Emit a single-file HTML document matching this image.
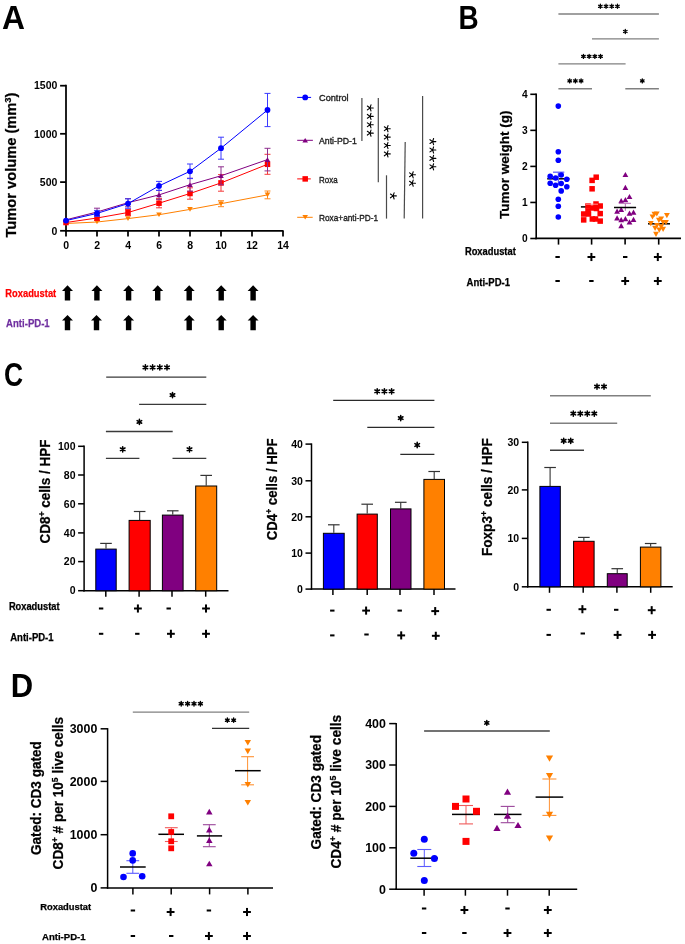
<!DOCTYPE html>
<html><head><meta charset="utf-8"><style>
html,body{margin:0;padding:0;background:#fff;width:685px;height:944px;overflow:hidden}
svg{display:block;font-family:"Liberation Sans", sans-serif;will-change:transform}
</style></head><body>
<svg width="685" height="944" viewBox="0 0 685 944">
<rect width="685" height="944" fill="#fff"/>
<text transform="translate(2.9,28.9) scale(0.95,1)" x="-1.00" y="0" font-size="33.5" font-weight="bold">A</text>
<line x1="66" y1="84.8" x2="66" y2="231.7" stroke="#000" stroke-width="1.75" />
<line x1="65.1" y1="230.8" x2="283.5" y2="230.8" stroke="#000" stroke-width="1.75" />
<line x1="60.1" y1="85.7" x2="66" y2="85.7" stroke="#000" stroke-width="1.75" />
<text x="57.4" y="89.4" font-size="10.5" font-weight="bold" text-anchor="end" fill="#000">1500</text>
<line x1="60.1" y1="133.8" x2="66" y2="133.8" stroke="#000" stroke-width="1.75" />
<text x="57.4" y="137.5" font-size="10.5" font-weight="bold" text-anchor="end" fill="#000">1000</text>
<line x1="60.1" y1="182.1" x2="66" y2="182.1" stroke="#000" stroke-width="1.75" />
<text x="57.4" y="185.79999999999998" font-size="10.5" font-weight="bold" text-anchor="end" fill="#000">500</text>
<line x1="60.1" y1="230.8" x2="66" y2="230.8" stroke="#000" stroke-width="1.75" />
<text x="57.4" y="234.5" font-size="10.5" font-weight="bold" text-anchor="end" fill="#000">0</text>
<line x1="66.0" y1="230.8" x2="66.0" y2="236.6" stroke="#000" stroke-width="1.75" />
<text x="66.1" y="249" font-size="10.5" font-weight="bold" text-anchor="middle" fill="#000">0</text>
<line x1="97.0" y1="230.8" x2="97.0" y2="236.6" stroke="#000" stroke-width="1.75" />
<text x="97.1" y="249" font-size="10.5" font-weight="bold" text-anchor="middle" fill="#000">2</text>
<line x1="128.0" y1="230.8" x2="128.0" y2="236.6" stroke="#000" stroke-width="1.75" />
<text x="128.1" y="249" font-size="10.5" font-weight="bold" text-anchor="middle" fill="#000">4</text>
<line x1="159.0" y1="230.8" x2="159.0" y2="236.6" stroke="#000" stroke-width="1.75" />
<text x="159.1" y="249" font-size="10.5" font-weight="bold" text-anchor="middle" fill="#000">6</text>
<line x1="190.0" y1="230.8" x2="190.0" y2="236.6" stroke="#000" stroke-width="1.75" />
<text x="190.1" y="249" font-size="10.5" font-weight="bold" text-anchor="middle" fill="#000">8</text>
<line x1="221.0" y1="230.8" x2="221.0" y2="236.6" stroke="#000" stroke-width="1.75" />
<text x="221.1" y="249" font-size="10.5" font-weight="bold" text-anchor="middle" fill="#000">10</text>
<line x1="252.0" y1="230.8" x2="252.0" y2="236.6" stroke="#000" stroke-width="1.75" />
<text x="252.1" y="249" font-size="10.5" font-weight="bold" text-anchor="middle" fill="#000">12</text>
<line x1="283.0" y1="230.8" x2="283.0" y2="236.6" stroke="#000" stroke-width="1.75" />
<text x="283.1" y="249" font-size="10.5" font-weight="bold" text-anchor="middle" fill="#000">14</text>
<text transform="translate(16.4,237.5) rotate(-90)" x="0" y="0" font-size="14" font-weight="bold" fill="#000" stroke="#000" stroke-width="0.25" textLength="145" lengthAdjust="spacingAndGlyphs">Tumor volume (mm<tspan font-size="9" dy="-5">3</tspan><tspan dy="5">)</tspan></text>
<polyline points="66.00,223.50 97.00,222.00 128.00,218.60 159.00,214.70 190.00,209.40 221.00,203.70 267.50,194.90" fill="none" stroke="#FF8000" stroke-width="1"/>
<line x1="221.0" y1="200.7" x2="221.0" y2="206.7" stroke="#FF8A1F" stroke-width="1" />
<line x1="218.0" y1="200.7" x2="224.0" y2="200.7" stroke="#FF8A1F" stroke-width="1" />
<line x1="218.0" y1="206.7" x2="224.0" y2="206.7" stroke="#FF8A1F" stroke-width="1" />
<line x1="267.5" y1="191.0" x2="267.5" y2="198.8" stroke="#FF8A1F" stroke-width="1" />
<line x1="264.5" y1="191.0" x2="270.5" y2="191.0" stroke="#FF8A1F" stroke-width="1" />
<line x1="264.5" y1="198.8" x2="270.5" y2="198.8" stroke="#FF8A1F" stroke-width="1" />
<path d="M66.00 225.80L68.80 221.20L63.20 221.20Z" fill="#FF8000"/>
<path d="M97.00 224.30L99.80 219.70L94.20 219.70Z" fill="#FF8000"/>
<path d="M128.00 220.90L130.80 216.30L125.20 216.30Z" fill="#FF8000"/>
<path d="M159.00 217.00L161.80 212.40L156.20 212.40Z" fill="#FF8000"/>
<path d="M190.00 211.70L192.80 207.10L187.20 207.10Z" fill="#FF8000"/>
<path d="M221.00 206.00L223.80 201.40L218.20 201.40Z" fill="#FF8000"/>
<path d="M267.50 197.20L270.30 192.60L264.70 192.60Z" fill="#FF8000"/>
<polyline points="66.00,222.50 97.00,218.00 128.00,212.50 159.00,203.20 190.00,193.50 221.00,182.90 267.50,164.30" fill="none" stroke="#FF0000" stroke-width="1"/>
<line x1="97.0" y1="215.5" x2="97.0" y2="220.5" stroke="#F43A3A" stroke-width="1" />
<line x1="94.0" y1="215.5" x2="100.0" y2="215.5" stroke="#F43A3A" stroke-width="1" />
<line x1="94.0" y1="220.5" x2="100.0" y2="220.5" stroke="#F43A3A" stroke-width="1" />
<line x1="128.0" y1="209.5" x2="128.0" y2="215.5" stroke="#F43A3A" stroke-width="1" />
<line x1="125.0" y1="209.5" x2="131.0" y2="209.5" stroke="#F43A3A" stroke-width="1" />
<line x1="125.0" y1="215.5" x2="131.0" y2="215.5" stroke="#F43A3A" stroke-width="1" />
<line x1="159.0" y1="198.6" x2="159.0" y2="207.79999999999998" stroke="#F43A3A" stroke-width="1" />
<line x1="156.0" y1="198.6" x2="162.0" y2="198.6" stroke="#F43A3A" stroke-width="1" />
<line x1="156.0" y1="207.79999999999998" x2="162.0" y2="207.79999999999998" stroke="#F43A3A" stroke-width="1" />
<line x1="190.0" y1="187.8" x2="190.0" y2="199.2" stroke="#F43A3A" stroke-width="1" />
<line x1="187.0" y1="187.8" x2="193.0" y2="187.8" stroke="#F43A3A" stroke-width="1" />
<line x1="187.0" y1="199.2" x2="193.0" y2="199.2" stroke="#F43A3A" stroke-width="1" />
<line x1="221.0" y1="174.6" x2="221.0" y2="191.20000000000002" stroke="#F43A3A" stroke-width="1" />
<line x1="218.0" y1="174.6" x2="224.0" y2="174.6" stroke="#F43A3A" stroke-width="1" />
<line x1="218.0" y1="191.20000000000002" x2="224.0" y2="191.20000000000002" stroke="#F43A3A" stroke-width="1" />
<line x1="267.5" y1="154.3" x2="267.5" y2="174.3" stroke="#F43A3A" stroke-width="1" />
<line x1="264.5" y1="154.3" x2="270.5" y2="154.3" stroke="#F43A3A" stroke-width="1" />
<line x1="264.5" y1="174.3" x2="270.5" y2="174.3" stroke="#F43A3A" stroke-width="1" />
<rect x="63.25" y="219.75" width="5.5" height="5.5" fill="#FF0000"/>
<rect x="94.25" y="215.25" width="5.5" height="5.5" fill="#FF0000"/>
<rect x="125.25" y="209.75" width="5.5" height="5.5" fill="#FF0000"/>
<rect x="156.25" y="200.45" width="5.5" height="5.5" fill="#FF0000"/>
<rect x="187.25" y="190.75" width="5.5" height="5.5" fill="#FF0000"/>
<rect x="218.25" y="180.15" width="5.5" height="5.5" fill="#FF0000"/>
<rect x="264.75" y="161.55" width="5.5" height="5.5" fill="#FF0000"/>
<polyline points="66.00,219.80 97.00,212.00 128.00,202.70 159.00,194.90 190.00,184.70 221.00,175.80 267.50,159.60" fill="none" stroke="#800080" stroke-width="1"/>
<line x1="97.0" y1="208.2" x2="97.0" y2="215.8" stroke="#8E2E8E" stroke-width="1" />
<line x1="94.0" y1="208.2" x2="100.0" y2="208.2" stroke="#8E2E8E" stroke-width="1" />
<line x1="94.0" y1="215.8" x2="100.0" y2="215.8" stroke="#8E2E8E" stroke-width="1" />
<line x1="128.0" y1="198.6" x2="128.0" y2="206.79999999999998" stroke="#8E2E8E" stroke-width="1" />
<line x1="125.0" y1="198.6" x2="131.0" y2="198.6" stroke="#8E2E8E" stroke-width="1" />
<line x1="125.0" y1="206.79999999999998" x2="131.0" y2="206.79999999999998" stroke="#8E2E8E" stroke-width="1" />
<line x1="159.0" y1="190.4" x2="159.0" y2="199.4" stroke="#8E2E8E" stroke-width="1" />
<line x1="156.0" y1="190.4" x2="162.0" y2="190.4" stroke="#8E2E8E" stroke-width="1" />
<line x1="156.0" y1="199.4" x2="162.0" y2="199.4" stroke="#8E2E8E" stroke-width="1" />
<line x1="190.0" y1="178.2" x2="190.0" y2="191.2" stroke="#8E2E8E" stroke-width="1" />
<line x1="187.0" y1="178.2" x2="193.0" y2="178.2" stroke="#8E2E8E" stroke-width="1" />
<line x1="187.0" y1="191.2" x2="193.0" y2="191.2" stroke="#8E2E8E" stroke-width="1" />
<line x1="221.0" y1="166.8" x2="221.0" y2="184.8" stroke="#8E2E8E" stroke-width="1" />
<line x1="218.0" y1="166.8" x2="224.0" y2="166.8" stroke="#8E2E8E" stroke-width="1" />
<line x1="218.0" y1="184.8" x2="224.0" y2="184.8" stroke="#8E2E8E" stroke-width="1" />
<line x1="267.5" y1="148.29999999999998" x2="267.5" y2="170.9" stroke="#8E2E8E" stroke-width="1" />
<line x1="264.5" y1="148.29999999999998" x2="270.5" y2="148.29999999999998" stroke="#8E2E8E" stroke-width="1" />
<line x1="264.5" y1="170.9" x2="270.5" y2="170.9" stroke="#8E2E8E" stroke-width="1" />
<path d="M66.00 217.50L68.80 222.10L63.20 222.10Z" fill="#800080"/>
<path d="M97.00 209.70L99.80 214.30L94.20 214.30Z" fill="#800080"/>
<path d="M128.00 200.40L130.80 205.00L125.20 205.00Z" fill="#800080"/>
<path d="M159.00 192.60L161.80 197.20L156.20 197.20Z" fill="#800080"/>
<path d="M190.00 182.40L192.80 187.00L187.20 187.00Z" fill="#800080"/>
<path d="M221.00 173.50L223.80 178.10L218.20 178.10Z" fill="#800080"/>
<path d="M267.50 157.30L270.30 161.90L264.70 161.90Z" fill="#800080"/>
<polyline points="66.00,220.60 97.00,213.40 128.00,203.60 159.00,185.90 190.00,171.30 221.00,148.20 267.50,110.00" fill="none" stroke="#0000FF" stroke-width="1"/>
<line x1="97.0" y1="210.4" x2="97.0" y2="216.4" stroke="#3A3AFF" stroke-width="1" />
<line x1="94.0" y1="210.4" x2="100.0" y2="210.4" stroke="#3A3AFF" stroke-width="1" />
<line x1="94.0" y1="216.4" x2="100.0" y2="216.4" stroke="#3A3AFF" stroke-width="1" />
<line x1="128.0" y1="198.9" x2="128.0" y2="208.29999999999998" stroke="#3A3AFF" stroke-width="1" />
<line x1="125.0" y1="198.9" x2="131.0" y2="198.9" stroke="#3A3AFF" stroke-width="1" />
<line x1="125.0" y1="208.29999999999998" x2="131.0" y2="208.29999999999998" stroke="#3A3AFF" stroke-width="1" />
<line x1="159.0" y1="181.4" x2="159.0" y2="190.4" stroke="#3A3AFF" stroke-width="1" />
<line x1="156.0" y1="181.4" x2="162.0" y2="181.4" stroke="#3A3AFF" stroke-width="1" />
<line x1="156.0" y1="190.4" x2="162.0" y2="190.4" stroke="#3A3AFF" stroke-width="1" />
<line x1="190.0" y1="164.0" x2="190.0" y2="178.60000000000002" stroke="#3A3AFF" stroke-width="1" />
<line x1="187.0" y1="164.0" x2="193.0" y2="164.0" stroke="#3A3AFF" stroke-width="1" />
<line x1="187.0" y1="178.60000000000002" x2="193.0" y2="178.60000000000002" stroke="#3A3AFF" stroke-width="1" />
<line x1="221.0" y1="137.2" x2="221.0" y2="159.2" stroke="#3A3AFF" stroke-width="1" />
<line x1="218.0" y1="137.2" x2="224.0" y2="137.2" stroke="#3A3AFF" stroke-width="1" />
<line x1="218.0" y1="159.2" x2="224.0" y2="159.2" stroke="#3A3AFF" stroke-width="1" />
<line x1="267.5" y1="93.4" x2="267.5" y2="126.6" stroke="#3A3AFF" stroke-width="1" />
<line x1="264.5" y1="93.4" x2="270.5" y2="93.4" stroke="#3A3AFF" stroke-width="1" />
<line x1="264.5" y1="126.6" x2="270.5" y2="126.6" stroke="#3A3AFF" stroke-width="1" />
<circle cx="66.00" cy="220.60" r="2.9" fill="#0000FF"/>
<circle cx="97.00" cy="213.40" r="2.9" fill="#0000FF"/>
<circle cx="128.00" cy="203.60" r="2.9" fill="#0000FF"/>
<circle cx="159.00" cy="185.90" r="2.9" fill="#0000FF"/>
<circle cx="190.00" cy="171.30" r="2.9" fill="#0000FF"/>
<circle cx="221.00" cy="148.20" r="2.9" fill="#0000FF"/>
<circle cx="267.50" cy="110.00" r="2.9" fill="#0000FF"/>
<line x1="297.2" y1="97.4" x2="311.1" y2="97.4" stroke="#0000FF" stroke-width="1" />
<circle cx="305.20" cy="97.40" r="2.9" fill="#0000FF"/>
<text x="319" y="101.30000000000001" font-size="9.7" font-weight="normal" text-anchor="start" fill="#1a1a1a" stroke="#1a1a1a" stroke-width="0.35" textLength="29.6" lengthAdjust="spacingAndGlyphs" >Control</text>
<line x1="297.2" y1="140.3" x2="312.9" y2="140.3" stroke="#800080" stroke-width="1" />
<path d="M305.20 138.00L308.00 142.60L302.40 142.60Z" fill="#800080"/>
<text x="319" y="144.20000000000002" font-size="9.7" font-weight="normal" text-anchor="start" fill="#1a1a1a" stroke="#1a1a1a" stroke-width="0.35" textLength="37.8" lengthAdjust="spacingAndGlyphs" >Anti-PD-1</text>
<line x1="297.2" y1="178.9" x2="310.8" y2="178.9" stroke="#FF0000" stroke-width="1" />
<rect x="302.45" y="176.15" width="5.5" height="5.5" fill="#FF0000"/>
<text x="319" y="182.8" font-size="9.7" font-weight="normal" text-anchor="start" fill="#1a1a1a" stroke="#1a1a1a" stroke-width="0.35" textLength="18.6" lengthAdjust="spacingAndGlyphs" >Roxa</text>
<line x1="297.2" y1="217.3" x2="312.7" y2="217.3" stroke="#FF8000" stroke-width="1" />
<path d="M305.20 219.60L308.00 215.00L302.40 215.00Z" fill="#FF8000"/>
<text x="319" y="221.20000000000002" font-size="9.7" font-weight="normal" text-anchor="start" fill="#1a1a1a" stroke="#1a1a1a" stroke-width="0.35" textLength="59.1" lengthAdjust="spacingAndGlyphs" >Roxa+anti-PD-1</text>
<line x1="361.9" y1="98.1" x2="361.9" y2="141.1" stroke="#4a4a4a" stroke-width="1.2" />
<path d="M370.00 107.95L373.25 107.95M370.00 107.95L371.00 111.04M370.00 107.95L367.37 109.86M370.00 107.95L367.37 106.04M370.00 107.95L371.00 104.86" stroke="#000" stroke-width="1.1" stroke-linecap="round" fill="none"/>
<path d="M370.00 116.35L373.25 116.35M370.00 116.35L371.00 119.44M370.00 116.35L367.37 118.26M370.00 116.35L367.37 114.44M370.00 116.35L371.00 113.26" stroke="#000" stroke-width="1.1" stroke-linecap="round" fill="none"/>
<path d="M370.00 124.75L373.25 124.75M370.00 124.75L371.00 127.84M370.00 124.75L367.37 126.66M370.00 124.75L367.37 122.84M370.00 124.75L371.00 121.66" stroke="#000" stroke-width="1.1" stroke-linecap="round" fill="none"/>
<path d="M370.00 133.15L373.25 133.15M370.00 133.15L371.00 136.24M370.00 133.15L367.37 135.06M370.00 133.15L367.37 131.24M370.00 133.15L371.00 130.06" stroke="#000" stroke-width="1.1" stroke-linecap="round" fill="none"/>
<line x1="378.3" y1="98.1" x2="378.3" y2="182.3" stroke="#4a4a4a" stroke-width="1.2" />
<path d="M387.00 128.70L390.25 128.70M387.00 128.70L388.00 131.79M387.00 128.70L384.37 130.61M387.00 128.70L384.37 126.79M387.00 128.70L388.00 125.61" stroke="#000" stroke-width="1.1" stroke-linecap="round" fill="none"/>
<path d="M387.00 137.10L390.25 137.10M387.00 137.10L388.00 140.19M387.00 137.10L384.37 139.01M387.00 137.10L384.37 135.19M387.00 137.10L388.00 134.01" stroke="#000" stroke-width="1.1" stroke-linecap="round" fill="none"/>
<path d="M387.00 145.50L390.25 145.50M387.00 145.50L388.00 148.59M387.00 145.50L384.37 147.41M387.00 145.50L384.37 143.59M387.00 145.50L388.00 142.41" stroke="#000" stroke-width="1.1" stroke-linecap="round" fill="none"/>
<path d="M387.00 153.90L390.25 153.90M387.00 153.90L388.00 156.99M387.00 153.90L384.37 155.81M387.00 153.90L384.37 151.99M387.00 153.90L388.00 150.81" stroke="#000" stroke-width="1.1" stroke-linecap="round" fill="none"/>
<line x1="386.5" y1="175.3" x2="386.5" y2="218.6" stroke="#4a4a4a" stroke-width="1.2" />
<path d="M393.10 195.90L396.35 195.90M393.10 195.90L394.10 198.99M393.10 195.90L390.47 197.81M393.10 195.90L390.47 193.99M393.10 195.90L394.10 192.81" stroke="#000" stroke-width="1.1" stroke-linecap="round" fill="none"/>
<line x1="405.2" y1="141.9" x2="404.2" y2="218.6" stroke="#4a4a4a" stroke-width="1.2" />
<path d="M412.20 174.80L415.45 174.80M412.20 174.80L413.20 177.89M412.20 174.80L409.57 176.71M412.20 174.80L409.57 172.89M412.20 174.80L413.20 171.71" stroke="#000" stroke-width="1.1" stroke-linecap="round" fill="none"/>
<path d="M412.20 183.20L415.45 183.20M412.20 183.20L413.20 186.29M412.20 183.20L409.57 185.11M412.20 183.20L409.57 181.29M412.20 183.20L413.20 180.11" stroke="#000" stroke-width="1.1" stroke-linecap="round" fill="none"/>
<line x1="422.6" y1="95.9" x2="422.6" y2="218.6" stroke="#4a4a4a" stroke-width="1.2" />
<path d="M432.60 141.60L435.85 141.60M432.60 141.60L433.60 144.69M432.60 141.60L429.97 143.51M432.60 141.60L429.97 139.69M432.60 141.60L433.60 138.51" stroke="#000" stroke-width="1.1" stroke-linecap="round" fill="none"/>
<path d="M432.60 150.00L435.85 150.00M432.60 150.00L433.60 153.09M432.60 150.00L429.97 151.91M432.60 150.00L429.97 148.09M432.60 150.00L433.60 146.91" stroke="#000" stroke-width="1.1" stroke-linecap="round" fill="none"/>
<path d="M432.60 158.40L435.85 158.40M432.60 158.40L433.60 161.49M432.60 158.40L429.97 160.31M432.60 158.40L429.97 156.49M432.60 158.40L433.60 155.31" stroke="#000" stroke-width="1.1" stroke-linecap="round" fill="none"/>
<path d="M432.60 166.80L435.85 166.80M432.60 166.80L433.60 169.89M432.60 166.80L429.97 168.71M432.60 166.80L429.97 164.89M432.60 166.80L433.60 163.71" stroke="#000" stroke-width="1.1" stroke-linecap="round" fill="none"/>
<path d="M67.50 285.30L73.00 290.90L70.20 290.90L70.20 300.60L64.80 300.60L64.80 290.90L62.00 290.90Z" fill="#000"/>
<path d="M96.90 285.30L102.40 290.90L99.60 290.90L99.60 300.60L94.20 300.60L94.20 290.90L91.40 290.90Z" fill="#000"/>
<path d="M128.60 285.30L134.10 290.90L131.30 290.90L131.30 300.60L125.90 300.60L125.90 290.90L123.10 290.90Z" fill="#000"/>
<path d="M157.70 285.30L163.20 290.90L160.40 290.90L160.40 300.60L155.00 300.60L155.00 290.90L152.20 290.90Z" fill="#000"/>
<path d="M189.20 285.30L194.70 290.90L191.90 290.90L191.90 300.60L186.50 300.60L186.50 290.90L183.70 290.90Z" fill="#000"/>
<path d="M221.20 285.30L226.70 290.90L223.90 290.90L223.90 300.60L218.50 300.60L218.50 290.90L215.70 290.90Z" fill="#000"/>
<path d="M253.10 285.30L258.60 290.90L255.80 290.90L255.80 300.60L250.40 300.60L250.40 290.90L247.60 290.90Z" fill="#000"/>
<path d="M67.50 315.00L73.00 320.60L70.20 320.60L70.20 330.30L64.80 330.30L64.80 320.60L62.00 320.60Z" fill="#000"/>
<path d="M96.50 315.00L102.00 320.60L99.20 320.60L99.20 330.30L93.80 330.30L93.80 320.60L91.00 320.60Z" fill="#000"/>
<path d="M128.60 315.00L134.10 320.60L131.30 320.60L131.30 330.30L125.90 330.30L125.90 320.60L123.10 320.60Z" fill="#000"/>
<path d="M189.20 315.00L194.70 320.60L191.90 320.60L191.90 330.30L186.50 330.30L186.50 320.60L183.70 320.60Z" fill="#000"/>
<path d="M221.20 315.00L226.70 320.60L223.90 320.60L223.90 330.30L218.50 330.30L218.50 320.60L215.70 320.60Z" fill="#000"/>
<path d="M253.10 315.00L258.60 320.60L255.80 320.60L255.80 330.30L250.40 330.30L250.40 320.60L247.60 320.60Z" fill="#000"/>
<text x="5.3" y="296.9" font-size="11.5" font-weight="bold" text-anchor="start" fill="#FF0000" stroke="#FF0000" stroke-width="0.25" textLength="50.9" lengthAdjust="spacingAndGlyphs" >Roxadustat</text>
<text x="6.1" y="327.1" font-size="11.5" font-weight="bold" text-anchor="start" fill="#7030A0" stroke="#7030A0" stroke-width="0.25" textLength="43.6" lengthAdjust="spacingAndGlyphs" >Anti-PD-1</text>
<text transform="translate(460.4,28.9) scale(0.845,1)" x="-2.31" y="0" font-size="33" font-weight="bold">B</text>
<line x1="536.2" y1="93.6" x2="536.2" y2="239.2" stroke="#000" stroke-width="1.6" />
<line x1="535.4" y1="238.4" x2="681" y2="238.4" stroke="#000" stroke-width="1.6" />
<line x1="530.3" y1="238.5" x2="536.2" y2="238.5" stroke="#000" stroke-width="1.6" />
<text x="527.6" y="242.1" font-size="10.2" font-weight="bold" text-anchor="end" fill="#000">0</text>
<line x1="530.3" y1="202.45" x2="536.2" y2="202.45" stroke="#000" stroke-width="1.6" />
<text x="527.6" y="206.04999999999998" font-size="10.2" font-weight="bold" text-anchor="end" fill="#000">1</text>
<line x1="530.3" y1="166.4" x2="536.2" y2="166.4" stroke="#000" stroke-width="1.6" />
<text x="527.6" y="170.0" font-size="10.2" font-weight="bold" text-anchor="end" fill="#000">2</text>
<line x1="530.3" y1="130.35000000000002" x2="536.2" y2="130.35000000000002" stroke="#000" stroke-width="1.6" />
<text x="527.6" y="133.95000000000002" font-size="10.2" font-weight="bold" text-anchor="end" fill="#000">3</text>
<line x1="530.3" y1="94.30000000000001" x2="536.2" y2="94.30000000000001" stroke="#000" stroke-width="1.6" />
<text x="527.6" y="97.9" font-size="10.2" font-weight="bold" text-anchor="end" fill="#000">4</text>
<line x1="558.5" y1="238.4" x2="558.5" y2="244.6" stroke="#000" stroke-width="1.6" />
<line x1="591.6" y1="238.4" x2="591.6" y2="244.6" stroke="#000" stroke-width="1.6" />
<line x1="625.1" y1="238.4" x2="625.1" y2="244.6" stroke="#000" stroke-width="1.6" />
<line x1="658.7" y1="238.4" x2="658.7" y2="244.6" stroke="#000" stroke-width="1.6" />
<text transform="translate(508.6,218.9) rotate(-90)" x="0" y="0" font-size="13.5" font-weight="bold" fill="#000" stroke="#000" stroke-width="0.25" textLength="108.5" lengthAdjust="spacingAndGlyphs">Tumor weight (g)</text>
<line x1="558.4" y1="14" x2="658.9" y2="14" stroke="#808080" stroke-width="1.4" />
<path d="M600.35 4.25V8.35M598.57 5.28L602.13 7.32M598.57 7.32L602.13 5.28" stroke="#000" stroke-width="1.3" stroke-linecap="round" fill="none"/>
<path d="M606.05 4.25V8.35M604.27 5.28L607.83 7.32M604.27 7.32L607.83 5.28" stroke="#000" stroke-width="1.3" stroke-linecap="round" fill="none"/>
<path d="M611.75 4.25V8.35M609.97 5.28L613.53 7.32M609.97 7.32L613.53 5.28" stroke="#000" stroke-width="1.3" stroke-linecap="round" fill="none"/>
<path d="M617.45 4.25V8.35M615.67 5.28L619.23 7.32M615.67 7.32L619.23 5.28" stroke="#000" stroke-width="1.3" stroke-linecap="round" fill="none"/>
<line x1="592" y1="38.9" x2="658.9" y2="38.9" stroke="#808080" stroke-width="1.4" />
<path d="M625.30 29.45V33.55M623.52 30.48L627.08 32.52M623.52 32.52L627.08 30.48" stroke="#000" stroke-width="1.3" stroke-linecap="round" fill="none"/>
<line x1="558.4" y1="63.9" x2="625.6" y2="63.9" stroke="#808080" stroke-width="1.4" />
<path d="M583.45 54.35V58.45M581.67 55.38L585.23 57.42M581.67 57.42L585.23 55.38" stroke="#000" stroke-width="1.3" stroke-linecap="round" fill="none"/>
<path d="M589.15 54.35V58.45M587.37 55.38L590.93 57.42M587.37 57.42L590.93 55.38" stroke="#000" stroke-width="1.3" stroke-linecap="round" fill="none"/>
<path d="M594.85 54.35V58.45M593.07 55.38L596.63 57.42M593.07 57.42L596.63 55.38" stroke="#000" stroke-width="1.3" stroke-linecap="round" fill="none"/>
<path d="M600.55 54.35V58.45M598.77 55.38L602.33 57.42M598.77 57.42L602.33 55.38" stroke="#000" stroke-width="1.3" stroke-linecap="round" fill="none"/>
<line x1="558.4" y1="88.8" x2="592" y2="88.8" stroke="#808080" stroke-width="1.4" />
<path d="M569.70 78.85V82.95M567.92 79.88L571.48 81.93M567.92 81.93L571.48 79.88" stroke="#000" stroke-width="1.3" stroke-linecap="round" fill="none"/>
<path d="M575.40 78.85V82.95M573.62 79.88L577.18 81.93M573.62 81.93L577.18 79.88" stroke="#000" stroke-width="1.3" stroke-linecap="round" fill="none"/>
<path d="M581.10 78.85V82.95M579.32 79.88L582.88 81.93M579.32 81.93L582.88 79.88" stroke="#000" stroke-width="1.3" stroke-linecap="round" fill="none"/>
<line x1="625.3" y1="88.8" x2="658.9" y2="88.8" stroke="#808080" stroke-width="1.4" />
<path d="M642.30 78.85V82.95M640.52 79.88L644.08 81.93M640.52 81.93L644.08 79.88" stroke="#000" stroke-width="1.3" stroke-linecap="round" fill="none"/>
<line x1="547.2" y1="178.8" x2="569.4" y2="178.8" stroke="#000" stroke-width="1.5" />
<line x1="558.4" y1="172.2" x2="558.4" y2="185" stroke="#6060FF" stroke-width="1.2" />
<line x1="553" y1="172.2" x2="564.3" y2="172.2" stroke="#6060FF" stroke-width="1.3" />
<circle cx="558.30" cy="106.10" r="2.8" fill="#0000FF"/>
<circle cx="558.30" cy="151.80" r="2.8" fill="#0000FF"/>
<circle cx="558.30" cy="160.30" r="2.8" fill="#0000FF"/>
<circle cx="550.20" cy="176.40" r="2.8" fill="#0000FF"/>
<circle cx="555.60" cy="178.00" r="2.8" fill="#0000FF"/>
<circle cx="561.20" cy="175.00" r="2.8" fill="#0000FF"/>
<circle cx="566.80" cy="179.30" r="2.8" fill="#0000FF"/>
<circle cx="550.20" cy="183.20" r="2.8" fill="#0000FF"/>
<circle cx="555.60" cy="185.30" r="2.8" fill="#0000FF"/>
<circle cx="561.20" cy="183.50" r="2.8" fill="#0000FF"/>
<circle cx="566.80" cy="186.70" r="2.8" fill="#0000FF"/>
<circle cx="561.20" cy="190.90" r="2.8" fill="#0000FF"/>
<circle cx="558.30" cy="199.20" r="2.8" fill="#0000FF"/>
<circle cx="558.30" cy="206.30" r="2.8" fill="#0000FF"/>
<circle cx="558.30" cy="217.00" r="2.8" fill="#0000FF"/>
<line x1="580.9" y1="206.9" x2="602.7" y2="206.9" stroke="#000" stroke-width="1.5" />
<rect x="593.45" y="174.45" width="5.5" height="5.5" fill="#FF0000"/>
<rect x="589.35" y="177.65" width="5.5" height="5.5" fill="#FF0000"/>
<rect x="589.35" y="186.05" width="5.5" height="5.5" fill="#FF0000"/>
<rect x="593.25" y="201.25" width="5.5" height="5.5" fill="#FF0000"/>
<rect x="585.25" y="203.25" width="5.5" height="5.5" fill="#FF0000"/>
<rect x="597.45" y="203.25" width="5.5" height="5.5" fill="#FF0000"/>
<rect x="589.75" y="205.25" width="5.5" height="5.5" fill="#FF0000"/>
<rect x="585.25" y="208.25" width="5.5" height="5.5" fill="#FF0000"/>
<rect x="580.95" y="211.25" width="5.5" height="5.5" fill="#FF0000"/>
<rect x="585.75" y="211.25" width="5.5" height="5.5" fill="#FF0000"/>
<rect x="580.95" y="217.15" width="5.5" height="5.5" fill="#FF0000"/>
<rect x="597.45" y="210.85" width="5.5" height="5.5" fill="#FF0000"/>
<rect x="597.45" y="218.35" width="5.5" height="5.5" fill="#FF0000"/>
<rect x="589.55" y="216.25" width="5.5" height="5.5" fill="#FF0000"/>
<rect x="592.75" y="216.25" width="5.5" height="5.5" fill="#FF0000"/>
<rect x="593.75" y="205.75" width="5.5" height="5.5" fill="#FF0000"/>
<line x1="586" y1="204.2" x2="598" y2="204.2" stroke="#FF9090" stroke-width="1" />
<path d="M625.40 171.90L628.30 177.10L622.50 177.10Z" fill="#800080"/>
<path d="M625.40 184.70L628.30 189.90L622.50 189.90Z" fill="#800080"/>
<path d="M629.50 193.90L632.40 199.10L626.60 199.10Z" fill="#800080"/>
<path d="M625.40 197.10L628.30 202.30L622.50 202.30Z" fill="#800080"/>
<path d="M621.20 198.00L624.10 203.20L618.30 203.20Z" fill="#800080"/>
<path d="M621.20 206.70L624.10 211.90L618.30 211.90Z" fill="#800080"/>
<path d="M617.10 208.60L620.00 213.80L614.20 213.80Z" fill="#800080"/>
<path d="M629.50 210.50L632.40 215.70L626.60 215.70Z" fill="#800080"/>
<path d="M633.50 209.60L636.40 214.80L630.60 214.80Z" fill="#800080"/>
<path d="M617.10 215.20L620.00 220.40L614.20 220.40Z" fill="#800080"/>
<path d="M621.20 217.10L624.10 222.30L618.30 222.30Z" fill="#800080"/>
<path d="M625.40 216.10L628.30 221.30L622.50 221.30Z" fill="#800080"/>
<path d="M633.50 216.70L636.40 221.90L630.60 221.90Z" fill="#800080"/>
<path d="M629.50 219.30L632.40 224.50L626.60 224.50Z" fill="#800080"/>
<path d="M621.20 223.00L624.10 228.20L618.30 228.20Z" fill="#800080"/>
<line x1="625.4" y1="203.4" x2="625.4" y2="210.8" stroke="#C080C0" stroke-width="1.2" />
<line x1="619" y1="203.4" x2="630.9" y2="203.4" stroke="#C080C0" stroke-width="1.3" />
<line x1="614" y1="207.5" x2="636.1" y2="207.5" stroke="#000" stroke-width="1.5" />
<line x1="648" y1="223.8" x2="670" y2="223.8" stroke="#000" stroke-width="1.5" />
<path d="M654.40 217.00L657.30 211.80L651.50 211.80Z" fill="#FF8000"/>
<path d="M656.80 216.60L659.70 211.40L653.90 211.40Z" fill="#FF8000"/>
<path d="M666.90 218.20L669.80 213.00L664.00 213.00Z" fill="#FF8000"/>
<path d="M652.50 219.60L655.40 214.40L649.60 214.40Z" fill="#FF8000"/>
<path d="M661.20 221.60L664.10 216.40L658.30 216.40Z" fill="#FF8000"/>
<path d="M658.90 222.90L661.80 217.70L656.00 217.70Z" fill="#FF8000"/>
<path d="M666.00 225.10L668.90 219.90L663.10 219.90Z" fill="#FF8000"/>
<path d="M650.80 226.20L653.70 221.00L647.90 221.00Z" fill="#FF8000"/>
<path d="M663.10 225.10L666.00 219.90L660.20 219.90Z" fill="#FF8000"/>
<path d="M657.00 228.10L659.90 222.90L654.10 222.90Z" fill="#FF8000"/>
<path d="M661.20 229.50L664.10 224.30L658.30 224.30Z" fill="#FF8000"/>
<path d="M655.10 231.00L658.00 225.80L652.20 225.80Z" fill="#FF8000"/>
<path d="M663.10 231.90L666.00 226.70L660.20 226.70Z" fill="#FF8000"/>
<path d="M659.30 232.80L662.20 227.60L656.40 227.60Z" fill="#FF8000"/>
<path d="M656.00 237.00L658.90 231.80L653.10 231.80Z" fill="#FF8000"/>
<text x="464.9" y="254.7" font-size="10" font-weight="bold" text-anchor="start" fill="#000" stroke="#000" stroke-width="0.25" textLength="50.9" lengthAdjust="spacingAndGlyphs" >Roxadustat</text>
<text x="466.6" y="285.9" font-size="10" font-weight="bold" text-anchor="start" fill="#000" stroke="#000" stroke-width="0.25" textLength="43.4" lengthAdjust="spacingAndGlyphs" >Anti-PD-1</text>
<rect x="555.40" y="256.00" width="4.4" height="2.0" fill="#000"/>
<rect x="587.50" y="256.00" width="7.8" height="2.0" fill="#000"/>
<rect x="590.40" y="252.95" width="2.0" height="8.1" fill="#000"/>
<rect x="623.00" y="256.00" width="4.4" height="2.0" fill="#000"/>
<rect x="653.90" y="256.00" width="7.8" height="2.0" fill="#000"/>
<rect x="656.80" y="252.95" width="2.0" height="8.1" fill="#000"/>
<rect x="555.40" y="280.00" width="4.4" height="2.0" fill="#000"/>
<rect x="589.20" y="280.00" width="4.4" height="2.0" fill="#000"/>
<rect x="621.30" y="280.00" width="7.8" height="2.0" fill="#000"/>
<rect x="624.20" y="276.95" width="2.0" height="8.1" fill="#000"/>
<rect x="653.90" y="280.00" width="7.8" height="2.0" fill="#000"/>
<rect x="656.80" y="276.95" width="2.0" height="8.1" fill="#000"/>
<text transform="translate(5,386.2) scale(0.79,1)" x="-1.34" y="0" font-size="33.5" font-weight="bold">C</text>
<line x1="84.1" y1="445.6" x2="84.1" y2="591.4000000000001" stroke="#000" stroke-width="1.5" />
<line x1="83.35" y1="590.7" x2="228.5" y2="590.7" stroke="#000" stroke-width="1.5" />
<line x1="78.1" y1="446.3" x2="84.1" y2="446.3" stroke="#000" stroke-width="1.5" />
<text x="75.5" y="450.0" font-size="10.5" font-weight="bold" text-anchor="end" fill="#000">100</text>
<line x1="78.1" y1="475" x2="84.1" y2="475" stroke="#000" stroke-width="1.5" />
<text x="75.5" y="478.7" font-size="10.5" font-weight="bold" text-anchor="end" fill="#000">80</text>
<line x1="78.1" y1="503.8" x2="84.1" y2="503.8" stroke="#000" stroke-width="1.5" />
<text x="75.5" y="507.5" font-size="10.5" font-weight="bold" text-anchor="end" fill="#000">60</text>
<line x1="78.1" y1="532.9" x2="84.1" y2="532.9" stroke="#000" stroke-width="1.5" />
<text x="75.5" y="536.6" font-size="10.5" font-weight="bold" text-anchor="end" fill="#000">40</text>
<line x1="78.1" y1="561.6" x2="84.1" y2="561.6" stroke="#000" stroke-width="1.5" />
<text x="75.5" y="565.3000000000001" font-size="10.5" font-weight="bold" text-anchor="end" fill="#000">20</text>
<line x1="78.1" y1="590.7" x2="84.1" y2="590.7" stroke="#000" stroke-width="1.5" />
<text x="75.5" y="594.4000000000001" font-size="10.5" font-weight="bold" text-anchor="end" fill="#000">0</text>
<line x1="105.8" y1="590.7" x2="105.8" y2="596.7" stroke="#000" stroke-width="1.5" />
<line x1="139.1" y1="590.7" x2="139.1" y2="596.7" stroke="#000" stroke-width="1.5" />
<line x1="172" y1="590.7" x2="172" y2="596.7" stroke="#000" stroke-width="1.5" />
<line x1="205.7" y1="590.7" x2="205.7" y2="596.7" stroke="#000" stroke-width="1.5" />
<text transform="translate(49.5,543.5) rotate(-90)" x="0" y="0" font-size="13.8" font-weight="bold" fill="#000" stroke="#000" stroke-width="0.25" textLength="104" lengthAdjust="spacingAndGlyphs">CD8<tspan font-size="9" dy="-5">+</tspan><tspan dy="5"> cells / HPF</tspan></text>
<line x1="106.0" y1="543.4" x2="106.0" y2="548.6" stroke="#333" stroke-width="1.1" />
<line x1="100.2" y1="543.4" x2="111.8" y2="543.4" stroke="#333" stroke-width="1.2" />
<rect x="95.80" y="549.10" width="20.40" height="41.60" fill="#0000FF" stroke="#000" stroke-width="1"/>
<line x1="139.64999999999998" y1="511.5" x2="139.64999999999998" y2="519.9" stroke="#333" stroke-width="1.1" />
<line x1="133.84999999999997" y1="511.5" x2="145.45" y2="511.5" stroke="#333" stroke-width="1.2" />
<rect x="129.10" y="520.40" width="21.10" height="70.30" fill="#FF0000" stroke="#000" stroke-width="1"/>
<line x1="172.75" y1="510.8" x2="172.75" y2="514.6" stroke="#333" stroke-width="1.1" />
<line x1="166.95" y1="510.8" x2="178.55" y2="510.8" stroke="#333" stroke-width="1.2" />
<rect x="162.40" y="515.10" width="20.70" height="75.60" fill="#800080" stroke="#000" stroke-width="1"/>
<line x1="206.2" y1="475.4" x2="206.2" y2="485.5" stroke="#333" stroke-width="1.1" />
<line x1="200.39999999999998" y1="475.4" x2="212.0" y2="475.4" stroke="#333" stroke-width="1.2" />
<rect x="195.70" y="486.00" width="21.00" height="104.70" fill="#FF8000" stroke="#000" stroke-width="1"/>
<rect x="98.90" y="607.50" width="4.4" height="2.0" fill="#000"/>
<rect x="134.00" y="607.50" width="7.8" height="2.0" fill="#000"/>
<rect x="136.90" y="604.45" width="2.0" height="8.1" fill="#000"/>
<rect x="166.50" y="607.50" width="4.4" height="2.0" fill="#000"/>
<rect x="202.10" y="607.50" width="7.8" height="2.0" fill="#000"/>
<rect x="205.00" y="604.45" width="2.0" height="8.1" fill="#000"/>
<rect x="98.90" y="632.80" width="4.4" height="2.0" fill="#000"/>
<rect x="135.10" y="632.80" width="4.4" height="2.0" fill="#000"/>
<rect x="167.00" y="632.80" width="7.8" height="2.0" fill="#000"/>
<rect x="169.90" y="629.75" width="2.0" height="8.1" fill="#000"/>
<rect x="202.10" y="632.80" width="7.8" height="2.0" fill="#000"/>
<rect x="205.00" y="629.75" width="2.0" height="8.1" fill="#000"/>
<line x1="106.2" y1="377.1" x2="206.3" y2="377.1" stroke="#3a3a3a" stroke-width="1.3" />
<path d="M145.40 364.75V370.05M143.11 366.07L147.69 368.72M143.11 368.72L147.69 366.07" stroke="#000" stroke-width="1.55" stroke-linecap="round" fill="none"/>
<path d="M152.60 364.75V370.05M150.31 366.07L154.89 368.72M150.31 368.72L154.89 366.07" stroke="#000" stroke-width="1.55" stroke-linecap="round" fill="none"/>
<path d="M159.80 364.75V370.05M157.51 366.07L162.09 368.72M157.51 368.72L162.09 366.07" stroke="#000" stroke-width="1.55" stroke-linecap="round" fill="none"/>
<path d="M167.00 364.75V370.05M164.71 366.07L169.29 368.72M164.71 368.72L169.29 366.07" stroke="#000" stroke-width="1.55" stroke-linecap="round" fill="none"/>
<line x1="139.1" y1="404.3" x2="206.3" y2="404.3" stroke="#3a3a3a" stroke-width="1.3" />
<path d="M172.50 392.45V397.75M170.21 393.78L174.79 396.43M170.21 396.43L174.79 393.78" stroke="#000" stroke-width="1.55" stroke-linecap="round" fill="none"/>
<line x1="105.9" y1="431.5" x2="172.7" y2="431.5" stroke="#3a3a3a" stroke-width="1.3" />
<path d="M139.40 419.25V424.55M137.11 420.57L141.69 423.22M137.11 423.22L141.69 420.57" stroke="#000" stroke-width="1.55" stroke-linecap="round" fill="none"/>
<line x1="105.9" y1="458.4" x2="139.4" y2="458.4" stroke="#3a3a3a" stroke-width="1.3" />
<path d="M122.70 446.65V451.95M120.41 447.98L124.99 450.62M120.41 450.62L124.99 447.98" stroke="#000" stroke-width="1.55" stroke-linecap="round" fill="none"/>
<line x1="172.5" y1="458.4" x2="206.3" y2="458.4" stroke="#3a3a3a" stroke-width="1.3" />
<path d="M189.50 446.65V451.95M187.21 447.98L191.79 450.62M187.21 450.62L191.79 447.98" stroke="#000" stroke-width="1.55" stroke-linecap="round" fill="none"/>
<text x="8.9" y="610.3" font-size="10" font-weight="bold" text-anchor="start" fill="#000" stroke="#000" stroke-width="0.25" textLength="50.6" lengthAdjust="spacingAndGlyphs" >Roxadustat</text>
<text x="10.2" y="640.5" font-size="10" font-weight="bold" text-anchor="start" fill="#000" stroke="#000" stroke-width="0.25" textLength="43.4" lengthAdjust="spacingAndGlyphs" >Anti-PD-1</text>
<line x1="311.5" y1="443.40000000000003" x2="311.5" y2="589.8000000000001" stroke="#000" stroke-width="1.5" />
<line x1="310.75" y1="589.1" x2="455.5" y2="589.1" stroke="#000" stroke-width="1.5" />
<line x1="305.5" y1="444.1" x2="311.5" y2="444.1" stroke="#000" stroke-width="1.5" />
<text x="302.9" y="447.8" font-size="10.5" font-weight="bold" text-anchor="end" fill="#000">40</text>
<line x1="305.5" y1="480.8" x2="311.5" y2="480.8" stroke="#000" stroke-width="1.5" />
<text x="302.9" y="484.5" font-size="10.5" font-weight="bold" text-anchor="end" fill="#000">30</text>
<line x1="305.5" y1="516.8" x2="311.5" y2="516.8" stroke="#000" stroke-width="1.5" />
<text x="302.9" y="520.5" font-size="10.5" font-weight="bold" text-anchor="end" fill="#000">20</text>
<line x1="305.5" y1="553.1" x2="311.5" y2="553.1" stroke="#000" stroke-width="1.5" />
<text x="302.9" y="556.8000000000001" font-size="10.5" font-weight="bold" text-anchor="end" fill="#000">10</text>
<line x1="305.5" y1="589.1" x2="311.5" y2="589.1" stroke="#000" stroke-width="1.5" />
<text x="302.9" y="592.8000000000001" font-size="10.5" font-weight="bold" text-anchor="end" fill="#000">0</text>
<line x1="332.9" y1="589.1" x2="332.9" y2="595.1" stroke="#000" stroke-width="1.5" />
<line x1="367.2" y1="589.1" x2="367.2" y2="595.1" stroke="#000" stroke-width="1.5" />
<line x1="400" y1="589.1" x2="400" y2="595.1" stroke="#000" stroke-width="1.5" />
<line x1="434" y1="589.1" x2="434" y2="595.1" stroke="#000" stroke-width="1.5" />
<text transform="translate(277.3,540.3) rotate(-90)" x="0" y="0" font-size="13.8" font-weight="bold" fill="#000" stroke="#000" stroke-width="0.25" textLength="102" lengthAdjust="spacingAndGlyphs">CD4<tspan font-size="9" dy="-5">+</tspan><tspan dy="5"> cells / HPF</tspan></text>
<line x1="333.79999999999995" y1="524.8" x2="333.79999999999995" y2="532.8" stroke="#333" stroke-width="1.1" />
<line x1="327.99999999999994" y1="524.8" x2="339.59999999999997" y2="524.8" stroke="#333" stroke-width="1.2" />
<rect x="323.40" y="533.30" width="20.80" height="55.80" fill="#0000FF" stroke="#000" stroke-width="1"/>
<line x1="367.20000000000005" y1="504.2" x2="367.20000000000005" y2="513.6" stroke="#333" stroke-width="1.1" />
<line x1="361.40000000000003" y1="504.2" x2="373.00000000000006" y2="504.2" stroke="#333" stroke-width="1.2" />
<rect x="357.10" y="514.10" width="20.20" height="75.00" fill="#FF0000" stroke="#000" stroke-width="1"/>
<line x1="400.75" y1="502.3" x2="400.75" y2="508.4" stroke="#333" stroke-width="1.1" />
<line x1="394.95" y1="502.3" x2="406.55" y2="502.3" stroke="#333" stroke-width="1.2" />
<rect x="390.50" y="508.90" width="20.50" height="80.20" fill="#800080" stroke="#000" stroke-width="1"/>
<line x1="434.2" y1="471.5" x2="434.2" y2="478.9" stroke="#333" stroke-width="1.1" />
<line x1="428.4" y1="471.5" x2="440.0" y2="471.5" stroke="#333" stroke-width="1.2" />
<rect x="423.90" y="479.40" width="20.60" height="109.70" fill="#FF8000" stroke="#000" stroke-width="1"/>
<rect x="330.10" y="609.60" width="4.4" height="2.0" fill="#000"/>
<rect x="362.20" y="609.60" width="7.8" height="2.0" fill="#000"/>
<rect x="365.10" y="606.55" width="2.0" height="8.1" fill="#000"/>
<rect x="397.50" y="609.60" width="4.4" height="2.0" fill="#000"/>
<rect x="431.30" y="610.10" width="7.8" height="2.0" fill="#000"/>
<rect x="434.20" y="607.05" width="2.0" height="8.1" fill="#000"/>
<rect x="330.10" y="634.40" width="4.4" height="2.0" fill="#000"/>
<rect x="364.30" y="633.50" width="4.4" height="2.0" fill="#000"/>
<rect x="397.30" y="634.40" width="7.8" height="2.0" fill="#000"/>
<rect x="400.20" y="631.35" width="2.0" height="8.1" fill="#000"/>
<rect x="431.90" y="634.80" width="7.8" height="2.0" fill="#000"/>
<rect x="434.80" y="631.75" width="2.0" height="8.1" fill="#000"/>
<line x1="333.2" y1="400.4" x2="434.4" y2="400.4" stroke="#2a2a2a" stroke-width="1.3" />
<path d="M377.20 388.65V393.95M374.91 389.98L379.49 392.62M374.91 392.62L379.49 389.98" stroke="#000" stroke-width="1.55" stroke-linecap="round" fill="none"/>
<path d="M384.40 388.65V393.95M382.11 389.98L386.69 392.62M382.11 392.62L386.69 389.98" stroke="#000" stroke-width="1.55" stroke-linecap="round" fill="none"/>
<path d="M391.60 388.65V393.95M389.31 389.98L393.89 392.62M389.31 392.62L393.89 389.98" stroke="#000" stroke-width="1.55" stroke-linecap="round" fill="none"/>
<line x1="367.3" y1="427.4" x2="434.4" y2="427.4" stroke="#2a2a2a" stroke-width="1.3" />
<path d="M400.70 415.45V420.75M398.41 416.78L402.99 419.43M398.41 419.43L402.99 416.78" stroke="#000" stroke-width="1.55" stroke-linecap="round" fill="none"/>
<line x1="400.3" y1="454.4" x2="434.4" y2="454.4" stroke="#2a2a2a" stroke-width="1.3" />
<path d="M417.20 442.35V447.65M414.91 443.68L419.49 446.32M414.91 446.32L419.49 443.68" stroke="#000" stroke-width="1.55" stroke-linecap="round" fill="none"/>
<line x1="527.8" y1="441.5" x2="527.8" y2="587.5" stroke="#000" stroke-width="1.5" />
<line x1="527.05" y1="586.8" x2="672.7" y2="586.8" stroke="#000" stroke-width="1.5" />
<line x1="521.8" y1="442.3" x2="527.8" y2="442.3" stroke="#000" stroke-width="1.5" />
<text x="519.1999999999999" y="446.0" font-size="10.5" font-weight="bold" text-anchor="end" fill="#000">30</text>
<line x1="521.8" y1="489.9" x2="527.8" y2="489.9" stroke="#000" stroke-width="1.5" />
<text x="519.1999999999999" y="493.59999999999997" font-size="10.5" font-weight="bold" text-anchor="end" fill="#000">20</text>
<line x1="521.8" y1="538.4" x2="527.8" y2="538.4" stroke="#000" stroke-width="1.5" />
<text x="519.1999999999999" y="542.1" font-size="10.5" font-weight="bold" text-anchor="end" fill="#000">10</text>
<line x1="521.8" y1="586.8" x2="527.8" y2="586.8" stroke="#000" stroke-width="1.5" />
<text x="519.1999999999999" y="590.5" font-size="10.5" font-weight="bold" text-anchor="end" fill="#000">0</text>
<line x1="549.5" y1="586.8" x2="549.5" y2="592.8" stroke="#000" stroke-width="1.5" />
<line x1="583.2" y1="586.8" x2="583.2" y2="592.8" stroke="#000" stroke-width="1.5" />
<line x1="616.9" y1="586.8" x2="616.9" y2="592.8" stroke="#000" stroke-width="1.5" />
<line x1="650.7" y1="586.8" x2="650.7" y2="592.8" stroke="#000" stroke-width="1.5" />
<text transform="translate(491.7,556.1) rotate(-90)" x="0" y="0" font-size="13.8" font-weight="bold" fill="#000" stroke="#000" stroke-width="0.25" textLength="118" lengthAdjust="spacingAndGlyphs">Foxp3<tspan font-size="9" dy="-5">+</tspan><tspan dy="5"> cells / HPF</tspan></text>
<line x1="550.0999999999999" y1="467.5" x2="550.0999999999999" y2="485.9" stroke="#333" stroke-width="1.1" />
<line x1="544.3" y1="467.5" x2="555.8999999999999" y2="467.5" stroke="#333" stroke-width="1.2" />
<rect x="539.90" y="486.40" width="20.40" height="100.40" fill="#0000FF" stroke="#000" stroke-width="1"/>
<line x1="583.85" y1="537.4" x2="583.85" y2="540.8" stroke="#333" stroke-width="1.1" />
<line x1="578.0500000000001" y1="537.4" x2="589.65" y2="537.4" stroke="#333" stroke-width="1.2" />
<rect x="573.60" y="541.30" width="20.50" height="45.50" fill="#FF0000" stroke="#000" stroke-width="1"/>
<line x1="617.25" y1="568.7" x2="617.25" y2="573.2" stroke="#333" stroke-width="1.1" />
<line x1="611.45" y1="568.7" x2="623.05" y2="568.7" stroke="#333" stroke-width="1.2" />
<rect x="607.30" y="573.70" width="19.90" height="13.10" fill="#800080" stroke="#000" stroke-width="1"/>
<line x1="650.65" y1="543.5" x2="650.65" y2="546.6" stroke="#333" stroke-width="1.1" />
<line x1="644.85" y1="543.5" x2="656.4499999999999" y2="543.5" stroke="#333" stroke-width="1.2" />
<rect x="640.40" y="547.10" width="20.50" height="39.70" fill="#FF8000" stroke="#000" stroke-width="1"/>
<rect x="546.50" y="608.80" width="4.4" height="2.0" fill="#000"/>
<rect x="578.50" y="608.20" width="7.8" height="2.0" fill="#000"/>
<rect x="581.40" y="605.15" width="2.0" height="8.1" fill="#000"/>
<rect x="614.00" y="608.80" width="4.4" height="2.0" fill="#000"/>
<rect x="647.80" y="609.20" width="7.8" height="2.0" fill="#000"/>
<rect x="650.70" y="606.15" width="2.0" height="8.1" fill="#000"/>
<rect x="546.50" y="633.90" width="4.4" height="2.0" fill="#000"/>
<rect x="580.60" y="632.50" width="4.4" height="2.0" fill="#000"/>
<rect x="613.70" y="633.90" width="7.8" height="2.0" fill="#000"/>
<rect x="616.60" y="630.85" width="2.0" height="8.1" fill="#000"/>
<rect x="648.20" y="633.90" width="7.8" height="2.0" fill="#000"/>
<rect x="651.10" y="630.85" width="2.0" height="8.1" fill="#000"/>
<line x1="550" y1="395.8" x2="650.8" y2="395.8" stroke="#808080" stroke-width="1.4" />
<path d="M597.00 383.95V389.25M594.71 385.28L599.29 387.93M594.71 387.93L599.29 385.28" stroke="#000" stroke-width="1.55" stroke-linecap="round" fill="none"/>
<path d="M604.00 383.95V389.25M601.71 385.28L606.29 387.93M601.71 387.93L606.29 385.28" stroke="#000" stroke-width="1.55" stroke-linecap="round" fill="none"/>
<line x1="550" y1="423.2" x2="617.2" y2="423.2" stroke="#808080" stroke-width="1.4" />
<path d="M573.30 410.95V416.25M571.01 412.28L575.59 414.93M571.01 414.93L575.59 412.28" stroke="#000" stroke-width="1.55" stroke-linecap="round" fill="none"/>
<path d="M580.30 410.95V416.25M578.01 412.28L582.59 414.93M578.01 414.93L582.59 412.28" stroke="#000" stroke-width="1.55" stroke-linecap="round" fill="none"/>
<path d="M587.30 410.95V416.25M585.01 412.28L589.59 414.93M585.01 414.93L589.59 412.28" stroke="#000" stroke-width="1.55" stroke-linecap="round" fill="none"/>
<path d="M594.30 410.95V416.25M592.01 412.28L596.59 414.93M592.01 414.93L596.59 412.28" stroke="#000" stroke-width="1.55" stroke-linecap="round" fill="none"/>
<line x1="550" y1="450.2" x2="584" y2="450.2" stroke="#3a3a3a" stroke-width="1.4" />
<path d="M563.70 438.15V443.45M561.41 439.48L565.99 442.12M561.41 442.12L565.99 439.48" stroke="#000" stroke-width="1.55" stroke-linecap="round" fill="none"/>
<path d="M570.70 438.15V443.45M568.41 439.48L572.99 442.12M568.41 442.12L572.99 439.48" stroke="#000" stroke-width="1.55" stroke-linecap="round" fill="none"/>
<text transform="translate(13,696.8) scale(0.96,1)" x="-2.26" y="0" font-size="32.3" font-weight="bold">D</text>
<line x1="107.6" y1="728.0999999999999" x2="107.6" y2="888.6" stroke="#000" stroke-width="1.5" />
<line x1="106.85" y1="887.9" x2="273" y2="887.9" stroke="#000" stroke-width="1.5" />
<line x1="100.6" y1="728.8" x2="107.6" y2="728.8" stroke="#000" stroke-width="1.5" />
<text x="97.3" y="733.1999999999999" font-size="12.4" font-weight="bold" text-anchor="end" fill="#000">3000</text>
<line x1="100.6" y1="781.4" x2="107.6" y2="781.4" stroke="#000" stroke-width="1.5" />
<text x="97.3" y="785.8" font-size="12.4" font-weight="bold" text-anchor="end" fill="#000">2000</text>
<line x1="100.6" y1="834.7" x2="107.6" y2="834.7" stroke="#000" stroke-width="1.5" />
<text x="97.3" y="839.1" font-size="12.4" font-weight="bold" text-anchor="end" fill="#000">1000</text>
<line x1="100.6" y1="887.9" x2="107.6" y2="887.9" stroke="#000" stroke-width="1.5" />
<text x="97.3" y="892.3" font-size="12.4" font-weight="bold" text-anchor="end" fill="#000">0</text>
<line x1="132.9" y1="887.9" x2="132.9" y2="894.4" stroke="#000" stroke-width="1.5" />
<line x1="171.2" y1="887.9" x2="171.2" y2="894.4" stroke="#000" stroke-width="1.5" />
<line x1="209.6" y1="887.9" x2="209.6" y2="894.4" stroke="#000" stroke-width="1.5" />
<line x1="247.9" y1="887.9" x2="247.9" y2="894.4" stroke="#000" stroke-width="1.5" />
<line x1="132.8" y1="860.7" x2="132.8" y2="873.3" stroke="#5A5AFF" stroke-width="1" />
<line x1="126.4" y1="860.7" x2="139.20000000000002" y2="860.7" stroke="#5A5AFF" stroke-width="1.1" />
<line x1="126.4" y1="873.3" x2="139.20000000000002" y2="873.3" stroke="#5A5AFF" stroke-width="1.1" />
<line x1="120" y1="867" x2="145.7" y2="867" stroke="#000" stroke-width="1.5" />
<circle cx="132.70" cy="853.40" r="3.3" fill="#0000FF"/>
<circle cx="132.70" cy="860.40" r="3.3" fill="#0000FF"/>
<circle cx="123.50" cy="877.00" r="3.3" fill="#0000FF"/>
<circle cx="142.20" cy="876.30" r="3.3" fill="#0000FF"/>
<line x1="171.3" y1="827.7" x2="171.3" y2="841.5" stroke="#F05A5A" stroke-width="1" />
<line x1="164.9" y1="827.7" x2="177.70000000000002" y2="827.7" stroke="#F05A5A" stroke-width="1.1" />
<line x1="164.9" y1="841.5" x2="177.70000000000002" y2="841.5" stroke="#F05A5A" stroke-width="1.1" />
<line x1="158.4" y1="834.3" x2="184" y2="834.3" stroke="#000" stroke-width="1.5" />
<rect x="168.30" y="813.40" width="5.8" height="5.8" fill="#FF0000"/>
<rect x="168.30" y="829.10" width="5.8" height="5.8" fill="#FF0000"/>
<rect x="168.30" y="838.40" width="5.8" height="5.8" fill="#FF0000"/>
<rect x="168.30" y="845.40" width="5.8" height="5.8" fill="#FF0000"/>
<line x1="209.3" y1="824.7" x2="209.3" y2="846.7" stroke="#9A469A" stroke-width="1" />
<line x1="202.9" y1="824.7" x2="215.70000000000002" y2="824.7" stroke="#9A469A" stroke-width="1.1" />
<line x1="202.9" y1="846.7" x2="215.70000000000002" y2="846.7" stroke="#9A469A" stroke-width="1.1" />
<line x1="196.9" y1="835.9" x2="222.1" y2="835.9" stroke="#000" stroke-width="1.5" />
<path d="M209.30 808.80L212.55 814.40L206.05 814.40Z" fill="#800080"/>
<path d="M209.30 826.80L212.55 832.40L206.05 832.40Z" fill="#800080"/>
<path d="M209.30 837.30L212.55 842.90L206.05 842.90Z" fill="#800080"/>
<path d="M209.30 860.70L212.55 866.30L206.05 866.30Z" fill="#800080"/>
<line x1="247.6" y1="756.7" x2="247.6" y2="784.8" stroke="#FF9233" stroke-width="1" />
<line x1="241.2" y1="756.7" x2="254.0" y2="756.7" stroke="#FF9233" stroke-width="1.1" />
<line x1="241.2" y1="784.8" x2="254.0" y2="784.8" stroke="#FF9233" stroke-width="1.1" />
<line x1="235" y1="770.7" x2="260.7" y2="770.7" stroke="#000" stroke-width="1.5" />
<path d="M247.80 745.50L251.05 739.90L244.55 739.90Z" fill="#FF8000"/>
<path d="M247.80 754.20L251.05 748.60L244.55 748.60Z" fill="#FF8000"/>
<path d="M247.80 787.60L251.05 782.00L244.55 782.00Z" fill="#FF8000"/>
<path d="M247.80 805.50L251.05 799.90L244.55 799.90Z" fill="#FF8000"/>
<rect x="130.70" y="909.50" width="4.4" height="2.0" fill="#000"/>
<rect x="166.70" y="911.00" width="7.8" height="2.0" fill="#000"/>
<rect x="169.60" y="907.95" width="2.0" height="8.1" fill="#000"/>
<rect x="206.70" y="909.50" width="4.4" height="2.0" fill="#000"/>
<rect x="243.10" y="911.00" width="7.8" height="2.0" fill="#000"/>
<rect x="246.00" y="907.95" width="2.0" height="8.1" fill="#000"/>
<rect x="130.70" y="935.00" width="4.4" height="2.0" fill="#000"/>
<rect x="169.00" y="935.00" width="4.4" height="2.0" fill="#000"/>
<rect x="205.00" y="935.00" width="7.8" height="2.0" fill="#000"/>
<rect x="207.90" y="931.95" width="2.0" height="8.1" fill="#000"/>
<rect x="243.10" y="935.00" width="7.8" height="2.0" fill="#000"/>
<rect x="246.00" y="931.95" width="2.0" height="8.1" fill="#000"/>
<line x1="132.8" y1="712.1" x2="249.2" y2="712.1" stroke="#808080" stroke-width="1.4" />
<path d="M181.20 701.40V706.00M179.21 702.55L183.19 704.85M179.21 704.85L183.19 702.55" stroke="#000" stroke-width="1.45" stroke-linecap="round" fill="none"/>
<path d="M187.60 701.40V706.00M185.61 702.55L189.59 704.85M185.61 704.85L189.59 702.55" stroke="#000" stroke-width="1.45" stroke-linecap="round" fill="none"/>
<path d="M194.00 701.40V706.00M192.01 702.55L195.99 704.85M192.01 704.85L195.99 702.55" stroke="#000" stroke-width="1.45" stroke-linecap="round" fill="none"/>
<path d="M200.40 701.40V706.00M198.41 702.55L202.39 704.85M198.41 704.85L202.39 702.55" stroke="#000" stroke-width="1.45" stroke-linecap="round" fill="none"/>
<line x1="212" y1="728.4" x2="249.2" y2="728.4" stroke="#333" stroke-width="1.3" />
<path d="M227.35 718.05V722.35M225.49 719.12L229.21 721.28M225.49 721.28L229.21 719.12" stroke="#000" stroke-width="1.4" stroke-linecap="round" fill="none"/>
<path d="M233.65 718.05V722.35M231.79 719.12L235.51 721.28M231.79 721.28L235.51 719.12" stroke="#000" stroke-width="1.4" stroke-linecap="round" fill="none"/>
<text transform="translate(41.3,855) rotate(-90)" x="0" y="0" font-size="14" font-weight="bold" fill="#000" stroke="#000" stroke-width="0.25" textLength="113.9" lengthAdjust="spacingAndGlyphs">Gated: CD3 gated</text>
<text transform="translate(63,869.4) rotate(-90)" x="0" y="0" font-size="14" font-weight="bold" fill="#000" stroke="#000" stroke-width="0.25" textLength="152.4" lengthAdjust="spacingAndGlyphs">CD8<tspan font-size="9" dy="-5">+</tspan><tspan dy="5"> # per 10</tspan><tspan font-size="9" dy="-5">5</tspan><tspan dy="5"> live cells</tspan></text>
<text x="40.2" y="909.8" font-size="9.5" font-weight="bold" text-anchor="start" fill="#000" stroke="#000" stroke-width="0.25" textLength="51" lengthAdjust="spacingAndGlyphs" >Roxadustat</text>
<text x="42" y="940" font-size="9.5" font-weight="bold" text-anchor="start" fill="#000" stroke="#000" stroke-width="0.25" textLength="43.6" lengthAdjust="spacingAndGlyphs" >Anti-PD-1</text>
<line x1="396.2" y1="722.9" x2="396.2" y2="889.9000000000001" stroke="#000" stroke-width="1.5" />
<line x1="395.45" y1="889.2" x2="577.2" y2="889.2" stroke="#000" stroke-width="1.5" />
<line x1="389.2" y1="723.6" x2="396.2" y2="723.6" stroke="#000" stroke-width="1.5" />
<text x="385.9" y="728.0" font-size="12.4" font-weight="bold" text-anchor="end" fill="#000">400</text>
<line x1="389.2" y1="765" x2="396.2" y2="765" stroke="#000" stroke-width="1.5" />
<text x="385.9" y="769.4" font-size="12.4" font-weight="bold" text-anchor="end" fill="#000">300</text>
<line x1="389.2" y1="806.4" x2="396.2" y2="806.4" stroke="#000" stroke-width="1.5" />
<text x="385.9" y="810.8" font-size="12.4" font-weight="bold" text-anchor="end" fill="#000">200</text>
<line x1="389.2" y1="847.8" x2="396.2" y2="847.8" stroke="#000" stroke-width="1.5" />
<text x="385.9" y="852.1999999999999" font-size="12.4" font-weight="bold" text-anchor="end" fill="#000">100</text>
<line x1="389.2" y1="889.2" x2="396.2" y2="889.2" stroke="#000" stroke-width="1.5" />
<text x="385.9" y="893.6" font-size="12.4" font-weight="bold" text-anchor="end" fill="#000">0</text>
<line x1="424.1" y1="889.2" x2="424.1" y2="895.7" stroke="#000" stroke-width="1.5" />
<line x1="465.4" y1="889.2" x2="465.4" y2="895.7" stroke="#000" stroke-width="1.5" />
<line x1="507.5" y1="889.2" x2="507.5" y2="895.7" stroke="#000" stroke-width="1.5" />
<line x1="549.2" y1="889.2" x2="549.2" y2="895.7" stroke="#000" stroke-width="1.5" />
<line x1="424.3" y1="849.5" x2="424.3" y2="866.5" stroke="#5A5AFF" stroke-width="1" />
<line x1="417.3" y1="849.5" x2="431.3" y2="849.5" stroke="#5A5AFF" stroke-width="1.1" />
<line x1="417.3" y1="866.5" x2="431.3" y2="866.5" stroke="#5A5AFF" stroke-width="1.1" />
<line x1="410.3" y1="858.2" x2="438" y2="858.2" stroke="#000" stroke-width="1.5" />
<circle cx="424.30" cy="839.30" r="3.5" fill="#0000FF"/>
<circle cx="413.80" cy="853.30" r="3.5" fill="#0000FF"/>
<circle cx="434.40" cy="858.60" r="3.5" fill="#0000FF"/>
<circle cx="424.30" cy="880.50" r="3.5" fill="#0000FF"/>
<line x1="466" y1="805.5" x2="466" y2="823.9" stroke="#F05A5A" stroke-width="1" />
<line x1="459" y1="805.5" x2="473" y2="805.5" stroke="#F05A5A" stroke-width="1.1" />
<line x1="459" y1="823.9" x2="473" y2="823.9" stroke="#F05A5A" stroke-width="1.1" />
<line x1="452" y1="814.4" x2="480" y2="814.4" stroke="#000" stroke-width="1.5" />
<rect x="462.50" y="795.50" width="7" height="7" fill="#FF0000"/>
<rect x="452.00" y="802.90" width="7" height="7" fill="#FF0000"/>
<rect x="473.00" y="807.80" width="7" height="7" fill="#FF0000"/>
<rect x="462.50" y="837.90" width="7" height="7" fill="#FF0000"/>
<line x1="507.7" y1="806.4" x2="507.7" y2="822.7" stroke="#9A469A" stroke-width="1" />
<line x1="500.7" y1="806.4" x2="514.7" y2="806.4" stroke="#9A469A" stroke-width="1.1" />
<line x1="500.7" y1="822.7" x2="514.7" y2="822.7" stroke="#9A469A" stroke-width="1.1" />
<line x1="494" y1="814.4" x2="521.5" y2="814.4" stroke="#000" stroke-width="1.5" />
<path d="M507.50 788.60L511.10 794.80L503.90 794.80Z" fill="#800080"/>
<path d="M507.50 812.60L511.10 818.80L503.90 818.80Z" fill="#800080"/>
<path d="M497.00 824.80L500.60 831.00L493.40 831.00Z" fill="#800080"/>
<path d="M518.00 821.90L521.60 828.10L514.40 828.10Z" fill="#800080"/>
<line x1="549.4" y1="779" x2="549.4" y2="815.4" stroke="#FF9233" stroke-width="1" />
<line x1="542.4" y1="779" x2="556.4" y2="779" stroke="#FF9233" stroke-width="1.1" />
<line x1="542.4" y1="815.4" x2="556.4" y2="815.4" stroke="#FF9233" stroke-width="1.1" />
<line x1="535.6" y1="797.1" x2="563.2" y2="797.1" stroke="#000" stroke-width="1.5" />
<path d="M549.50 761.70L553.10 755.50L545.90 755.50Z" fill="#FF8000"/>
<path d="M549.50 779.30L553.10 773.10L545.90 773.10Z" fill="#FF8000"/>
<path d="M549.50 818.00L553.10 811.80L545.90 811.80Z" fill="#FF8000"/>
<path d="M549.50 841.70L553.10 835.50L545.90 835.50Z" fill="#FF8000"/>
<rect x="421.90" y="907.50" width="4.4" height="2.0" fill="#000"/>
<rect x="460.50" y="909.00" width="7.8" height="2.0" fill="#000"/>
<rect x="463.40" y="905.95" width="2.0" height="8.1" fill="#000"/>
<rect x="505.30" y="907.50" width="4.4" height="2.0" fill="#000"/>
<rect x="543.90" y="909.00" width="7.8" height="2.0" fill="#000"/>
<rect x="546.80" y="905.95" width="2.0" height="8.1" fill="#000"/>
<rect x="421.90" y="932.00" width="4.4" height="2.0" fill="#000"/>
<rect x="462.20" y="932.00" width="4.4" height="2.0" fill="#000"/>
<rect x="503.60" y="932.00" width="7.8" height="2.0" fill="#000"/>
<rect x="506.50" y="928.95" width="2.0" height="8.1" fill="#000"/>
<rect x="543.90" y="932.00" width="7.8" height="2.0" fill="#000"/>
<rect x="546.80" y="928.95" width="2.0" height="8.1" fill="#000"/>
<line x1="424.1" y1="731" x2="549.8" y2="731" stroke="#444" stroke-width="1.3" />
<path d="M486.80 720.50V725.30M484.72 721.70L488.88 724.10M484.72 724.10L488.88 721.70" stroke="#000" stroke-width="1.5" stroke-linecap="round" fill="none"/>
<text transform="translate(320.8,849.4) rotate(-90)" x="0" y="0" font-size="14" font-weight="bold" fill="#000" stroke="#000" stroke-width="0.25" textLength="114.4" lengthAdjust="spacingAndGlyphs">Gated: CD3 gated</text>
<text transform="translate(341.2,868.5) rotate(-90)" x="0" y="0" font-size="14" font-weight="bold" fill="#000" stroke="#000" stroke-width="0.25" textLength="153.7" lengthAdjust="spacingAndGlyphs">CD4<tspan font-size="9" dy="-5">+</tspan><tspan dy="5"> # per 10</tspan><tspan font-size="9" dy="-5">5</tspan><tspan dy="5"> live cells</tspan></text>
</svg></body></html>
